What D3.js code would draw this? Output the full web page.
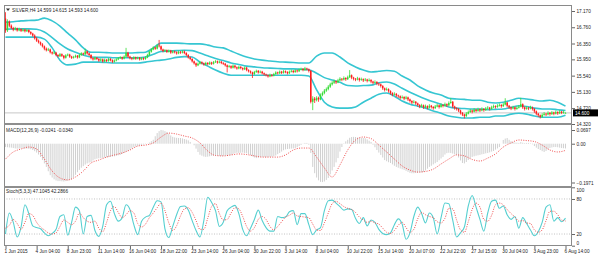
<!DOCTYPE html>
<html><head><meta charset="utf-8">
<script src="https://cdn.jsdelivr.net/npm/d3@7"></script>
<style>body{margin:0;background:#fff}svg{display:block}text{font-family:"Liberation Sans",Arial,sans-serif}</style>
</head><body><svg id="c" width="600" height="262"></svg>
<script>
// ---- DATA (SILVER, H4) ----
const opens=[16.98,16.68,16.90,16.80,16.74,16.70,16.73,16.68,16.71,16.67,
16.70,16.66,16.69,16.64,16.60,16.55,16.48,16.42,16.38,16.33,
16.28,16.22,16.18,16.20,16.13,16.10,16.12,16.06,16.03,16.08,
16.04,15.99,16.05,16.07,16.02,15.99,16.01,16.04,16.00,16.06,
16.10,16.08,16.15,16.10,16.06,15.98,15.95,15.99,15.96,15.92,
15.95,15.90,15.94,15.91,15.96,15.93,15.89,15.92,15.95,15.98,
16.00,15.97,16.02,16.12,16.02,15.98,15.96,16.00,15.97,15.99,
15.95,15.98,15.96,16.00,16.06,16.14,16.20,16.25,16.22,16.30,
16.28,16.20,16.16,16.18,16.14,16.17,16.12,16.15,16.13,16.10,
16.14,16.12,16.15,16.11,16.06,16.00,15.96,15.90,15.85,15.80,
15.84,15.88,15.85,15.82,15.86,15.83,15.87,15.84,15.88,15.90,
15.87,15.89,15.86,15.84,15.80,15.76,15.78,15.74,15.79,15.75,
15.72,15.76,15.73,15.70,15.74,15.68,15.65,15.62,15.58,15.63,
15.66,15.62,15.64,15.60,15.57,15.55,15.52,15.56,15.54,15.58,
15.62,15.60,15.64,15.61,15.65,15.63,15.60,15.64,15.66,15.63,
15.67,15.65,15.69,15.71,15.68,15.72,15.70,15.66,14.88,14.96,
14.92,14.98,14.94,15.05,15.10,15.16,15.20,15.26,15.32,15.36,
15.40,15.37,15.42,15.46,15.44,15.48,15.45,15.50,15.55,15.49,
15.46,15.44,15.47,15.43,15.45,15.42,15.44,15.41,15.43,15.39,
15.36,15.38,15.34,15.32,15.28,15.22,15.18,15.20,15.15,15.10,
15.06,15.08,15.04,15.02,14.98,15.00,14.96,14.99,14.94,14.90,
14.86,14.88,14.84,14.80,14.76,14.79,14.74,14.77,14.73,14.78,
14.75,14.72,14.76,14.79,14.75,14.80,14.78,14.82,14.79,14.85,
14.88,14.76,14.72,14.70,14.66,14.60,14.56,14.52,14.58,14.62,
14.66,14.63,14.68,14.65,14.69,14.66,14.70,14.67,14.71,14.73,
14.70,14.74,14.77,14.75,14.78,14.80,14.77,14.81,14.86,14.78,
14.74,14.71,14.74,14.70,14.73,14.76,14.82,14.74,14.70,14.73,
14.71,14.74,14.70,14.64,14.58,14.54,14.50,14.55,14.58,14.56,
14.60,14.57,14.61,14.58,14.62,14.59,14.63,14.60,14.599];
const highs=[17.14,16.96,16.93,16.83,16.77,16.77,16.75,16.75,16.73,16.73,
16.72,16.72,16.71,16.66,16.62,16.58,16.51,16.45,16.40,16.36,
16.30,16.25,16.24,16.22,16.15,16.16,16.14,16.08,16.11,16.10,
16.06,16.08,16.10,16.09,16.04,16.04,16.07,16.06,16.09,16.13,
16.12,16.22,16.17,16.12,16.08,16.00,16.02,16.01,15.98,15.98,
15.97,15.97,15.96,15.99,15.98,15.95,15.95,15.98,16.01,16.03,
16.02,16.05,16.24,16.14,16.04,16.00,16.03,16.02,16.02,16.01,
16.01,16.00,16.03,16.09,16.17,16.23,16.28,16.27,16.33,16.44,
16.30,16.22,16.21,16.20,16.20,16.19,16.18,16.17,16.15,16.17,
16.16,16.18,16.17,16.13,16.08,16.02,15.98,15.92,15.87,15.87,
15.91,15.90,15.87,15.89,15.88,15.90,15.89,15.91,15.93,15.92,
15.92,15.91,15.88,15.86,15.82,15.81,15.80,15.82,15.81,15.77,
15.79,15.78,15.75,15.77,15.76,15.70,15.67,15.64,15.66,15.69,
15.68,15.67,15.66,15.62,15.59,15.57,15.59,15.58,15.61,15.65,
15.64,15.67,15.66,15.68,15.67,15.65,15.67,15.69,15.68,15.70,
15.69,15.72,15.74,15.73,15.76,15.74,15.72,15.68,15.02,15.00,
15.02,15.01,15.09,15.14,15.20,15.24,15.30,15.36,15.40,15.44,
15.42,15.46,15.50,15.48,15.52,15.50,15.54,15.68,15.57,15.51,
15.48,15.51,15.49,15.49,15.47,15.48,15.46,15.47,15.45,15.41,
15.42,15.40,15.36,15.34,15.30,15.24,15.24,15.22,15.17,15.12,
15.12,15.10,15.06,15.04,15.04,15.02,15.03,15.01,14.96,14.92,
14.92,14.90,14.86,14.82,14.83,14.81,14.81,14.79,14.82,14.80,
14.77,14.80,14.83,14.81,14.84,14.82,14.86,14.84,14.89,14.97,
14.90,14.78,14.74,14.72,14.68,14.62,14.58,14.62,14.66,14.70,
14.68,14.72,14.70,14.73,14.71,14.74,14.72,14.75,14.77,14.75,
14.78,14.81,14.79,14.82,14.84,14.82,14.85,14.97,14.88,14.80,
14.76,14.78,14.76,14.77,14.80,14.98,14.84,14.76,14.77,14.75,
14.78,14.76,14.72,14.66,14.60,14.56,14.59,14.62,14.60,14.64,
14.62,14.65,14.63,14.66,14.64,14.67,14.65,14.66,14.615];
const lows=[16.62,16.64,16.76,16.71,16.66,16.68,16.65,16.66,16.64,16.65,
16.63,16.64,16.61,16.57,16.52,16.45,16.39,16.35,16.30,16.25,
16.18,16.15,16.16,16.10,16.07,16.08,16.03,16.00,16.01,16.01,
15.95,15.97,16.03,15.99,15.96,15.97,15.99,15.97,15.98,16.04,
16.05,16.06,16.07,16.03,15.95,15.92,15.93,15.93,15.89,15.90,
15.87,15.88,15.88,15.89,15.90,15.86,15.87,15.90,15.93,15.96,
15.94,15.95,16.00,15.99,15.95,15.93,15.94,15.94,15.95,15.92,
15.93,15.93,15.94,15.98,16.04,16.12,16.18,16.19,16.20,16.25,
16.17,16.13,16.14,16.11,16.12,16.09,16.10,16.10,16.07,16.08,
16.09,16.10,16.08,16.03,15.97,15.93,15.87,15.82,15.76,15.78,
15.82,15.82,15.79,15.80,15.80,15.81,15.81,15.82,15.86,15.84,
15.85,15.83,15.81,15.77,15.62,15.74,15.71,15.72,15.72,15.69,
15.70,15.70,15.67,15.68,15.65,15.62,15.59,15.48,15.56,15.61,
15.59,15.60,15.57,15.54,15.52,15.49,15.50,15.51,15.52,15.56,
15.57,15.58,15.58,15.59,15.60,15.57,15.58,15.62,15.60,15.61,
15.62,15.63,15.67,15.65,15.66,15.67,15.62,14.84,14.67,14.85,
14.89,14.88,14.92,15.02,15.07,15.13,15.17,15.23,15.29,15.33,
15.33,15.35,15.40,15.40,15.42,15.41,15.43,15.48,15.45,15.42,
15.40,15.42,15.39,15.41,15.38,15.40,15.37,15.39,15.35,15.32,
15.34,15.30,15.28,15.24,15.18,15.14,15.16,15.11,15.06,15.02,
15.04,15.00,14.98,14.94,14.96,14.92,14.94,14.90,14.86,14.82,
14.84,14.80,14.76,14.72,14.74,14.70,14.72,14.69,14.71,14.71,
14.68,14.70,14.74,14.71,14.73,14.74,14.76,14.75,14.77,14.83,
14.72,14.68,14.66,14.62,14.56,14.52,14.46,14.50,14.56,14.60,
14.59,14.61,14.61,14.63,14.62,14.64,14.63,14.65,14.69,14.66,
14.68,14.72,14.71,14.73,14.76,14.73,14.75,14.79,14.74,14.70,
14.67,14.69,14.66,14.68,14.71,14.74,14.70,14.66,14.68,14.67,
14.69,14.66,14.60,14.54,14.50,14.46,14.48,14.53,14.52,14.54,
14.53,14.55,14.54,14.56,14.55,14.57,14.57,14.58,14.593];
const closes=[16.68,16.90,16.80,16.74,16.70,16.73,16.68,16.71,16.67,16.70,
16.66,16.69,16.64,16.60,16.55,16.48,16.42,16.38,16.33,16.28,
16.22,16.18,16.20,16.13,16.10,16.12,16.06,16.03,16.08,16.04,
15.99,16.05,16.07,16.02,15.99,16.01,16.04,16.00,16.06,16.10,
16.08,16.15,16.10,16.06,15.98,15.95,15.99,15.96,15.92,15.95,
15.90,15.94,15.91,15.96,15.93,15.89,15.92,15.95,15.98,16.00,
15.97,16.02,16.12,16.02,15.98,15.96,16.00,15.97,15.99,15.95,
15.98,15.96,16.00,16.06,16.14,16.20,16.25,16.22,16.30,16.28,
16.20,16.16,16.18,16.14,16.17,16.12,16.15,16.13,16.10,16.14,
16.12,16.15,16.11,16.06,16.00,15.96,15.90,15.85,15.80,15.84,
15.88,15.85,15.82,15.86,15.83,15.87,15.84,15.88,15.90,15.87,
15.89,15.86,15.84,15.80,15.76,15.78,15.74,15.79,15.75,15.72,
15.76,15.73,15.70,15.74,15.68,15.65,15.62,15.58,15.63,15.66,
15.62,15.64,15.60,15.57,15.55,15.52,15.56,15.54,15.58,15.62,
15.60,15.64,15.61,15.65,15.63,15.60,15.64,15.66,15.63,15.67,
15.65,15.69,15.71,15.68,15.72,15.70,15.66,14.88,14.96,14.92,
14.98,14.94,15.05,15.10,15.16,15.20,15.26,15.32,15.36,15.40,
15.37,15.42,15.46,15.44,15.48,15.45,15.50,15.55,15.49,15.46,
15.44,15.47,15.43,15.45,15.42,15.44,15.41,15.43,15.39,15.36,
15.38,15.34,15.32,15.28,15.22,15.18,15.20,15.15,15.10,15.06,
15.08,15.04,15.02,14.98,15.00,14.96,14.99,14.94,14.90,14.86,
14.88,14.84,14.80,14.76,14.79,14.74,14.77,14.73,14.78,14.75,
14.72,14.76,14.79,14.75,14.80,14.78,14.82,14.79,14.85,14.88,
14.76,14.72,14.70,14.66,14.60,14.56,14.52,14.58,14.62,14.66,
14.63,14.68,14.65,14.69,14.66,14.70,14.67,14.71,14.73,14.70,
14.74,14.77,14.75,14.78,14.80,14.77,14.81,14.86,14.78,14.74,
14.71,14.74,14.70,14.73,14.76,14.82,14.74,14.70,14.73,14.71,
14.74,14.70,14.64,14.58,14.54,14.50,14.55,14.58,14.56,14.60,
14.57,14.61,14.58,14.62,14.59,14.63,14.60,14.62,14.600];
// Bollinger bands, one value every 4 bars
const bbUpper=[16.89,16.90,16.92,16.93,16.94,16.99,16.92,16.79,16.61,16.44,
16.24,16.13,16.13,16.12,16.11,16.11,16.11,16.12,16.13,16.24,
16.36,16.36,16.36,16.35,16.34,16.34,16.31,16.26,16.24,16.16,
16.08,16.01,15.96,15.93,15.91,15.89,15.88,15.87,15.86,15.86,
16.03,16.11,16.11,16.01,15.86,15.76,15.68,15.63,15.65,15.67,
15.65,15.53,15.43,15.28,15.18,15.10,15.05,14.97,14.95,14.94,
14.92,14.92,14.87,14.85,14.87,14.92,14.97,14.95,14.92,14.90,
14.92,14.87,14.77];
const bbMiddle=[16.71,16.72,16.72,16.72,16.71,16.64,16.50,16.34,16.21,16.13,
16.06,16.01,16.00,16.00,15.99,15.99,15.99,15.99,16.01,16.08,
16.15,16.16,16.17,16.18,16.17,16.11,16.04,15.97,15.92,15.86,
15.82,15.78,15.76,15.74,15.73,15.72,15.71,15.71,15.70,15.69,
15.60,15.49,15.43,15.37,15.29,15.28,15.29,15.30,15.36,15.38,
15.33,15.22,15.12,15.03,14.95,14.88,14.82,14.75,14.72,14.71,
14.70,14.70,14.68,14.69,14.70,14.74,14.78,14.76,14.72,14.70,
14.70,14.68,14.66];
const bbLower=[16.51,16.51,16.51,16.51,16.51,16.46,16.24,15.93,15.81,15.83,
15.88,15.88,15.88,15.87,15.86,15.86,15.86,15.86,15.88,15.91,
15.93,15.96,16.00,16.02,16.01,15.88,15.78,15.68,15.60,15.55,
15.55,15.55,15.55,15.55,15.55,15.55,15.55,15.55,15.55,15.53,
15.18,14.87,14.75,14.72,14.72,14.75,14.87,14.97,15.07,15.10,
15.02,14.90,14.82,14.77,14.72,14.65,14.59,14.52,14.49,14.47,
14.47,14.49,14.49,14.52,14.52,14.57,14.59,14.57,14.52,14.49,
14.49,14.49,14.54];
// MACD(12,26,9): main per bar, signal every 4 bars
const macdMain=[-0.017,-0.018,-0.019,-0.020,-0.022,-0.024,-0.025,-0.025,-0.024,-0.024,
-0.025,-0.025,-0.026,-0.028,-0.032,-0.038,-0.045,-0.055,-0.067,-0.083,
-0.100,-0.118,-0.140,-0.160,-0.172,-0.181,-0.187,-0.190,-0.190,-0.191,
-0.192,-0.190,-0.188,-0.185,-0.180,-0.170,-0.158,-0.145,-0.133,-0.122,
-0.114,-0.106,-0.100,-0.096,-0.093,-0.085,-0.079,-0.076,-0.074,-0.073,
-0.072,-0.070,-0.069,-0.068,-0.067,-0.065,-0.064,-0.062,-0.059,-0.057,
-0.052,-0.047,-0.041,-0.037,-0.031,-0.024,-0.018,-0.014,-0.011,-0.008,
-0.006,-0.004,-0.002,-0.001,0.006,0.013,0.020,0.038,0.054,0.064,
0.070,0.068,0.064,0.060,0.051,0.042,0.035,0.032,0.030,0.029,
0.029,0.027,0.024,0.021,0.017,0.009,0.000,-0.008,-0.025,-0.042,
-0.056,-0.061,-0.065,-0.067,-0.066,-0.064,-0.062,-0.061,-0.060,-0.061,
-0.062,-0.063,-0.062,-0.060,-0.061,-0.060,-0.058,-0.052,-0.048,-0.046,
-0.047,-0.046,-0.045,-0.047,-0.049,-0.053,-0.058,-0.064,-0.070,-0.073,
-0.070,-0.068,-0.067,-0.068,-0.069,-0.068,-0.067,-0.066,-0.064,-0.060,
-0.053,-0.047,-0.040,-0.033,-0.029,-0.027,-0.026,-0.025,-0.024,-0.022,
-0.018,-0.012,-0.006,-0.001,0.004,0.004,-0.005,-0.047,-0.118,-0.150,
-0.172,-0.186,-0.194,-0.195,-0.192,-0.184,-0.174,-0.155,-0.136,-0.118,
-0.095,-0.073,-0.040,-0.017,0.002,0.012,0.020,0.030,0.034,0.035,
0.034,0.032,0.030,0.029,0.029,0.028,0.022,0.015,0.009,-0.005,
-0.018,-0.032,-0.045,-0.057,-0.070,-0.083,-0.089,-0.094,-0.098,-0.105,
-0.112,-0.118,-0.122,-0.126,-0.130,-0.133,-0.138,-0.143,-0.148,-0.150,
-0.150,-0.149,-0.148,-0.147,-0.146,-0.144,-0.136,-0.127,-0.118,-0.112,
-0.105,-0.099,-0.093,-0.084,-0.075,-0.067,-0.055,-0.048,-0.046,-0.047,
-0.050,-0.054,-0.057,-0.070,-0.085,-0.098,-0.100,-0.093,-0.083,-0.074,
-0.067,-0.064,-0.061,-0.059,-0.057,-0.054,-0.052,-0.049,-0.047,-0.044,
-0.040,-0.037,-0.030,-0.024,-0.017,0.000,0.019,0.026,0.029,0.020,
0.013,0.009,0.006,0.005,0.004,0.008,0.005,0.003,0.004,0.004,
0.002,-0.003,-0.012,-0.020,-0.027,-0.032,-0.038,-0.042,-0.037,-0.029,
-0.022,-0.019,-0.017,-0.017,-0.018,-0.020,-0.022,-0.023,-0.0241];
const macdSignal=[-0.078,-0.042,-0.027,-0.017,-0.027,-0.078,-0.139,-0.174,-0.184,-0.169,
-0.139,-0.098,-0.083,-0.068,-0.057,-0.047,-0.032,-0.012,-0.007,0.004,
0.034,0.054,0.049,0.039,0.029,0.004,-0.037,-0.060,-0.062,-0.057,
-0.052,-0.055,-0.062,-0.068,-0.068,-0.068,-0.057,-0.032,-0.022,-0.022,
-0.068,-0.123,-0.169,-0.108,-0.032,0.019,0.034,0.026,-0.007,-0.042,
-0.078,-0.113,-0.134,-0.144,-0.141,-0.129,-0.103,-0.078,-0.057,-0.062,
-0.080,-0.088,-0.073,-0.052,-0.017,0.004,0.019,0.016,0.011,-0.007,
-0.032,-0.042,-0.034];
// Stochastic(5,3,3), one value every 2 bars
const stochMain=[20,56,40,15,32,70,55,34,31,29,
22,17,21,28,50,53,18,40,66,60,
20,50,52,26,16,33,70,76,55,42,
48,70,62,36,19,42,49,52,66,77,
75,29,14,33,53,67,68,61,43,26,
15,43,83,74,60,33,40,60,66,69,
55,28,17,30,45,61,43,31,25,25,
50,48,49,58,60,36,55,55,36,19,
27,31,60,77,78,73,67,61,63,62,
47,38,48,34,44,40,28,21,19,22,
36,46,37,11,22,50,66,55,39,56,
48,20,48,73,72,44,15,22,32,68,
86,66,45,25,56,76,78,64,68,53,
45,50,30,48,38,27,17,24,40,66,
70,42,48,41,47.1];
const stochSignal=[30,35,45,38,28,40,55,52,40,32,
27,22,20,22,33,44,40,36,42,56,
48,42,40,42,30,24,40,60,67,57,
48,53,60,56,38,32,37,48,56,65,
73,60,39,26,34,51,63,65,57,43,
28,28,47,67,72,55,44,45,56,65,
63,50,33,25,31,45,50,45,33,27,
33,41,49,52,56,51,50,49,48,37,
27,26,39,56,72,76,72,67,64,62,
57,49,44,40,42,39,37,30,23,21,
26,35,40,31,23,28,46,57,53,50,
48,41,39,47,64,63,44,27,23,41,
62,73,66,45,42,52,70,73,70,62,
55,49,42,43,39,38,27,23,27,43,
59,59,53,44,42.3];
const dateLabels=["1 Jun 2015","4 Jun 04:00","8 Jun 23:00","11 Jun 14:00","16 Jun 04:00","18 Jun 22:00","23 Jun 14:00","26 Jun 04:00","30 Jun 22:00","3 Jul 14:00","8 Jul 04:00","10 Jul 22:00","15 Jul 14:00","20 Jul 07:00","22 Jul 22:00","27 Jul 15:00","30 Jul 04:00","3 Aug 23:00","6 Aug 14:00"];
const priceTicks=[17.170,16.760,16.350,15.950,15.540,15.130,14.720,14.320];
const macdTicks=[0.0697,0,-0.1971];
const stochTicks=[100,80,20,0];
const bidPrice=14.600;
const headerText="SILVER,H4 14.599 14.615 14.593 14.600";
const macdText="MACD(12,26,9) -0.0241 -0.0340";
const stochText="Stoch(5,3,3) 47.1045 42.2866";

// ---- LAYOUT ----
const L=4, R=572, PT=5, PB=123, MT=125, MB=186, ST=188, SB=246;
const FS=4.7;
const svg=d3.select("#c");
const x=d3.scaleLinear().domain([0,288]).range([5.5,565.5]);
const yP=d3.scaleLinear().domain([14.32,17.17]).range([124,11]);
const yM=d3.scaleLinear().domain([-0.1971,0.0697]).range([182.5,130]);
const yS=d3.scaleLinear().domain([0,100]).range([245.7,187.3]);

const defs=svg.append("defs");
function clip(id,y0,y1){defs.append("clipPath").attr("id",id).append("rect").attr("x",L).attr("y",y0).attr("width",R-L).attr("height",y1-y0);return "url(#"+id+")";}
const gP=svg.append("g").attr("clip-path",clip("cp",PT,PB));
const gM=svg.append("g").attr("clip-path",clip("cm",MT,MB));
const gS=svg.append("g").attr("clip-path",clip("cs",ST,SB));

const GREEN="#35dc35", RED="#ff1a1a", CYAN="#36c6d2";

// bid line
gP.append("line").attr("x1",L).attr("x2",R).attr("y1",yP(bidPrice)).attr("y2",yP(bidPrice)).attr("stroke","#c8c8c8").attr("stroke-width",1);

// Bollinger bands
const band=d3.line().x((d,k)=>x(k*4)).y(d=>yP(d)).curve(d3.curveMonotoneX);
[bbUpper,bbMiddle,bbLower].forEach(a=>gP.append("path").attr("d",band(a)).attr("fill","none").attr("stroke",CYAN).attr("stroke-width",1.6));

// candles
const idx=d3.range(closes.length);
const col=i=>closes[i]>=opens[i]?GREEN:RED;
gP.selectAll("line.w").data(idx).join("line").attr("class","w")
 .attr("x1",i=>x(i)).attr("x2",i=>x(i)).attr("y1",i=>yP(highs[i])).attr("y2",i=>yP(lows[i]))
 .attr("stroke",col).attr("stroke-width",0.8);
gP.selectAll("rect.b").data(idx).join("rect").attr("class","b")
 .attr("x",i=>x(i)-0.75).attr("width",1.5)
 .attr("y",i=>yP(Math.max(opens[i],closes[i])))
 .attr("height",i=>Math.max(0.8,Math.abs(yP(opens[i])-yP(closes[i]))))
 .attr("fill",col);

// MACD
gM.selectAll("line.h").data(idx).join("line").attr("class","h")
 .attr("x1",i=>x(i)).attr("x2",i=>x(i)).attr("y1",yM(0)).attr("y2",i=>yM(macdMain[i]))
 .attr("stroke","#d0d0d0").attr("stroke-width",1);
gM.append("path").attr("d",d3.line().x((d,k)=>x(k*4)).y(d=>yM(d)).curve(d3.curveMonotoneX)(macdSignal))
 .attr("fill","none").attr("stroke","#f05050").attr("stroke-width",1).attr("stroke-dasharray","1,1.4");

// Stochastic
[80,20].forEach(v=>gS.append("line").attr("x1",L).attr("x2",R).attr("y1",yS(v)).attr("y2",yS(v)).attr("stroke","#b4b4b4").attr("stroke-width",0.8).attr("stroke-dasharray","1,1.5"));
const sl=d3.line().x((d,k)=>x(k*2)).y(d=>yS(d)).curve(d3.curveMonotoneX);
gS.append("path").attr("d",sl(stochMain)).attr("fill","none").attr("stroke","#55cfd0").attr("stroke-width",1.1);
gS.append("path").attr("d",sl(stochSignal)).attr("fill","none").attr("stroke","#f05050").attr("stroke-width",1).attr("stroke-dasharray","1,1.4");

// frames & separators
svg.append("rect").attr("x",L+0.5).attr("y",PT+0.5).attr("width",R-L-1).attr("height",SB-PT-1).attr("fill","none").attr("stroke","#8a8a8a").attr("stroke-width",1);
[[PB,MT],[MB,ST]].forEach(([a,b])=>svg.append("rect").attr("x",L).attr("y",a).attr("width",R-L).attr("height",b-a).attr("fill","#8e8e8e"));

// axes
function styleAxis(g){g.select(".domain").remove();g.selectAll("line").attr("stroke","#666");g.selectAll("text").attr("font-size",FS).attr("fill","#222").attr("font-family","Liberation Sans, Arial, sans-serif");}
svg.append("g").attr("transform",`translate(${R},0)`).call(d3.axisRight(yP).tickValues(priceTicks).tickFormat(d3.format(".3f")).tickSize(3).tickPadding(1.5)).call(styleAxis);
svg.append("g").attr("transform",`translate(${R},0)`).call(d3.axisRight(yM).tickValues(macdTicks).tickFormat(d=>d===0?"0.00":d3.format(".4f")(d)).tickSize(3).tickPadding(1.5)).call(styleAxis);
const gSA=svg.append("g").attr("transform",`translate(${R},0)`).call(d3.axisRight(yS).tickValues(stochTicks).tickFormat(d3.format("d")).tickSize(3).tickPadding(1.5)).call(styleAxis);
gSA.selectAll(".tick text").attr("dy",d=>d===100?"1.0em":d===0?"-0.3em":"0.32em");
const gX=svg.append("g").attr("transform",`translate(0,${SB})`).call(d3.axisBottom(x).tickValues(d3.range(0,289,16)).tickFormat((d,k)=>dateLabels[k]).tickSize(3).tickPadding(1)).call(styleAxis);
gX.selectAll(".tick text").attr("text-anchor","start").attr("dx",-1.5);

// bid label
svg.append("rect").attr("x",R+1).attr("y",yP(bidPrice)-3.5).attr("width",25).attr("height",7).attr("fill","#000");
svg.append("text").attr("x",R+3).attr("y",yP(bidPrice)+1.7).attr("font-size",FS).attr("fill","#fff").text(d3.format(".3f")(bidPrice));

// labels
svg.append("path").attr("d","M6,8.5 L10,8.5 L8,11 Z").attr("fill","#333");
svg.append("text").attr("x",12).attr("y",11.6).attr("font-size",FS).attr("fill","#222").text(headerText);
svg.append("text").attr("x",6).attr("y",132.3).attr("font-size",FS).attr("fill","#222").text(macdText);
svg.append("text").attr("x",6).attr("y",193).attr("font-size",FS).attr("fill","#222").text(stochText);
</script></body></html>
